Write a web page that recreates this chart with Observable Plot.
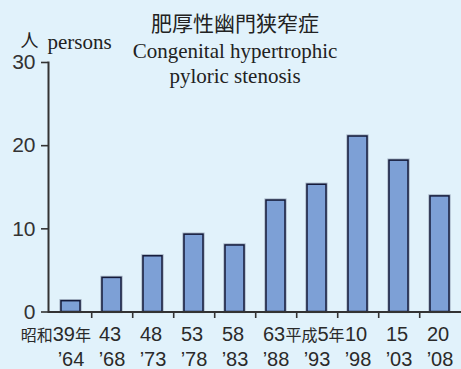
<!DOCTYPE html>
<html>
<head>
<meta charset="utf-8">
<script src="https://cdn.jsdelivr.net/npm/d3@7"></script>
<script src="https://cdn.jsdelivr.net/npm/@observablehq/plot@0.6"></script>
<style>
  html, body { margin: 0; padding: 0; background: #e1f2fb; }
  #chart { width: 461px; height: 369px; }
</style>
</head>
<body>
<div id="chart"></div>
<script>
const periods = ["S39","S43","S48","S53","S58","S63","H5","H10","H15","H20"];
const eraLabels = ["昭和39年","43","48","53","58","63","平成5年","10","15","20"];
const yearLabels = ["’64","’68","’73","’78","’83","’88","’93","’98","’03","’08"];
const cases = [1.3, 4.1, 6.7, 9.3, 8.0, 13.4, 15.3, 21.1, 18.2, 13.9];
const yTicks = [0, 10, 20, 30];
const titleJa = "肥厚性幽門狭窄症";
const titleEn1 = "Congenital hypertrophic";
const titleEn2 = "pyloric stenosis";
const unitJa = "人";
const unitEn = "persons";

const data = periods.map((p, i) => ({period: p, value: cases[i], era: eraLabels[i], year: yearLabels[i]}));
const boundaries = periods.slice(0, -1);

const narrow = "'Liberation Sans Narrow', 'Arial Narrow', 'Liberation Sans', sans-serif";
const cjk = "'Noto Sans CJK JP', sans-serif";
const serif = "'Liberation Serif', 'Times New Roman', serif";

const chart = Plot.plot({
  width: 461,
  height: 369,
  marginLeft: 48,
  marginRight: 0,
  marginTop: 62,
  marginBottom: 57.5,
  style: {background: "#e1f2fb", color: "#333", fontFamily: "'Liberation Sans', Arial, sans-serif"},
  x: {type: "band", domain: periods, range: [48, 461.3], paddingInner: 0.54, paddingOuter: 0.27, axis: null},
  y: {domain: [0, 30]},
  marks: [
    Plot.barY(data, {x: "period", y: "value", fill: "none", stroke: "#55607a", strokeOpacity: 0.45, strokeWidth: 3.2}),
    Plot.barY(data, {x: "period", y: "value", fill: "#7da0d6", stroke: "#141a3a", strokeWidth: 1.5}),
    Plot.ruleY([0], {stroke: "#333", strokeWidth: 2}),
    Plot.frame({anchor: "left", stroke: "#333", strokeWidth: 2}),
    Plot.ruleX(boundaries, {x: d => d, dx: 20.7, y1: 0, y2: 0, insetBottom: -6.5, stroke: "#333", strokeWidth: 1.6}),
    Plot.axisY({ticks: yTicks, tickSize: 7, tickPadding: 6, fontSize: 21, label: null, tickFormat: d => String(d), stroke: "#333", strokeWidth: 1.6}),
    Plot.text(data, {x: "period", text: "era", frameAnchor: "bottom", lineAnchor: "middle", dy: 23, fontSize: 20, fontFamily: narrow, fill: "#2a2a2a"}),
    Plot.text(data, {x: "period", text: "year", frameAnchor: "bottom", lineAnchor: "middle", dy: 47.5, fontSize: 20, fontFamily: narrow, fill: "#2a2a2a"}),
    Plot.text([titleJa], {frameAnchor: "top", lineAnchor: "middle", dx: -20, dy: -38.5, fontSize: 21, fontFamily: cjk, fill: "#222"}),
    Plot.text([titleEn1], {frameAnchor: "top", lineAnchor: "middle", dx: -20, dy: -11.7, fontSize: 21, fontFamily: serif, fill: "#222"}),
    Plot.text([titleEn2], {frameAnchor: "top", lineAnchor: "middle", dx: -20, dy: 13.8, fontSize: 21, fontFamily: serif, fill: "#222"}),
    Plot.text([unitJa], {frameAnchor: "top-left", lineAnchor: "middle", textAnchor: "start", dx: -28, dy: -21, fontSize: 18, fontFamily: cjk, fill: "#222"}),
    Plot.text([unitEn], {frameAnchor: "top-left", lineAnchor: "middle", textAnchor: "start", dx: -1, dy: -20.7, fontSize: 21, fontFamily: serif, fill: "#222"})
  ]
});

// smaller CJK glyphs inside the x labels; first label sits left of its bar
const eraGroup = Array.from(chart.querySelectorAll("g")).find(g => {
  const ts = Array.from(g.children).filter(c => c.tagName.toLowerCase() === "text");
  return ts.length === eraLabels.length && ts[0].textContent === eraLabels[0];
});
if (eraGroup) {
  d3.select(eraGroup).selectAll(":scope > text").each(function() {
    const el = d3.select(this);
    const s = el.text();
    el.text(null);
    const runs = s.match(/[\u3000-\u9fff]+|[^\u3000-\u9fff]+/g) || [];
    runs.forEach(r => {
      const t = el.append("tspan").text(r);
      if (/[\u3000-\u9fff]/.test(r)) t.attr("font-size", 16).attr("font-family", cjk);
    });
    if (s === eraLabels[0]) el.attr("text-anchor", "end").attr("dx", 20);
    else el.attr("dx", -2);
  });
}

document.getElementById("chart").appendChild(chart);
</script>
</body>
</html>
